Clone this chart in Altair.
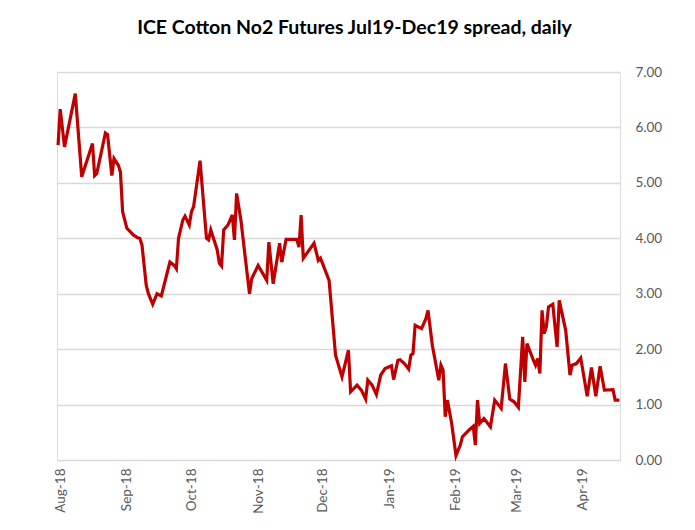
import altair as alt
import pandas as pd

# ---- data ----
DATES = [
    "2018-07-31", "2018-08-01", "2018-08-03", "2018-08-08", "2018-08-11", "2018-08-16",
    "2018-08-17", "2018-08-18", "2018-08-22", "2018-08-23", "2018-08-25", "2018-08-26",
    "2018-08-28", "2018-08-29", "2018-08-30", "2018-09-01", "2018-09-04", "2018-09-06",
    "2018-09-07", "2018-09-08", "2018-09-10", "2018-09-11", "2018-09-13", "2018-09-15",
    "2018-09-17", "2018-09-21", "2018-09-23", "2018-09-24", "2018-09-25", "2018-09-27",
    "2018-09-28", "2018-09-30", "2018-10-01", "2018-10-02", "2018-10-05", "2018-10-08",
    "2018-10-09", "2018-10-10", "2018-10-12", "2018-10-13", "2018-10-14", "2018-10-15",
    "2018-10-16", "2018-10-18", "2018-10-20", "2018-10-21", "2018-10-22", "2018-10-24",
    "2018-10-26", "2018-10-28", "2018-10-29", "2018-11-01", "2018-11-05", "2018-11-06",
    "2018-11-08", "2018-11-11", "2018-11-12", "2018-11-14", "2018-11-17", "2018-11-19",
    "2018-11-20", "2018-11-21", "2018-11-22", "2018-11-27", "2018-11-29", "2018-11-30",
    "2018-12-04", "2018-12-07", "2018-12-10", "2018-12-13", "2018-12-14", "2018-12-17",
    "2018-12-19", "2018-12-21", "2018-12-22", "2018-12-24", "2018-12-26", "2018-12-28",
    "2018-12-30", "2019-01-02", "2019-01-03", "2019-01-05", "2019-01-06", "2019-01-08",
    "2019-01-10", "2019-01-11", "2019-01-12", "2019-01-13", "2019-01-16", "2019-01-18",
    "2019-01-19", "2019-01-21", "2019-01-24", "2019-01-25", "2019-01-26", "2019-01-27",
    "2019-01-28", "2019-01-30", "2019-02-01", "2019-02-03", "2019-02-04", "2019-02-07",
    "2019-02-09", "2019-02-10", "2019-02-11", "2019-02-12", "2019-02-14", "2019-02-17",
    "2019-02-19", "2019-02-22", "2019-02-24", "2019-02-26", "2019-02-28", "2019-03-02",
    "2019-03-04", "2019-03-05", "2019-03-06", "2019-03-09", "2019-03-10", "2019-03-11",
    "2019-03-12", "2019-03-13", "2019-03-14", "2019-03-15", "2019-03-16", "2019-03-18",
    "2019-03-20", "2019-03-21", "2019-03-24", "2019-03-26", "2019-03-27", "2019-03-29",
    "2019-03-31", "2019-04-03", "2019-04-05", "2019-04-07", "2019-04-09", "2019-04-11",
    "2019-04-15", "2019-04-16", "2019-04-18",
]

SPREAD = [
    5.68, 6.33, 5.65, 6.61, 5.11, 5.71,
    5.13, 5.17, 5.90, 5.87, 5.13, 5.44,
    5.32, 5.19, 4.48, 4.18, 4.06, 4.01,
    4.00, 3.88, 3.15, 3.00, 2.81, 3.00,
    2.96, 3.57, 3.51, 3.45, 4.00, 4.33,
    4.40, 4.24, 4.48, 4.57, 5.40, 4.00,
    3.97, 4.15, 3.91, 3.79, 3.55, 3.50,
    4.15, 4.24, 4.42, 3.97, 4.81, 4.33,
    3.66, 3.00, 3.27, 3.51, 3.24, 3.93,
    3.18, 3.91, 3.57, 3.98, 3.98, 3.98,
    3.84, 4.42, 3.64, 3.91, 3.60, 3.64,
    3.24, 1.89, 1.50, 1.98, 1.23, 1.35,
    1.26, 1.10, 1.44, 1.35, 1.18, 1.53,
    1.65, 1.70, 1.45, 1.80, 1.81, 1.74,
    1.64, 1.89, 1.92, 2.43, 2.37, 2.55,
    2.70, 2.07, 1.44, 1.71, 1.62, 0.78,
    1.08, 0.66, 0.08, 0.27, 0.42, 0.54,
    0.61, 0.27, 1.08, 0.66, 0.75, 0.60,
    1.08, 0.93, 1.74, 1.10, 1.05, 0.95,
    2.22, 1.41, 2.10, 1.80, 1.71, 1.83,
    1.56, 2.70, 2.28, 2.40, 2.76, 2.81,
    2.04, 2.88, 2.34, 1.53, 1.71, 1.74,
    1.84, 1.15, 1.67, 1.15, 1.69, 1.26,
    1.27, 1.08, 1.08,
]

MONTH_TICKS = [(2018, 8), (2018, 9), (2018, 10), (2018, 11), (2018, 12),
               (2019, 1), (2019, 2), (2019, 3), (2019, 4)]
Y_TICKS = [0, 1, 2, 3, 4, 5, 6, 7]

TITLE = "ICE Cotton No2 Futures Jul19-Dec19 spread, daily"

df = pd.DataFrame({"date": DATES, "spread": SPREAD})

FONT = "Lato"
LABEL_COLOR = "#595959"
GRID_COLOR = "#d9d9d9"

x_enc = alt.X(
    "date:T",
    scale=alt.Scale(
        type="utc",
        domain=[
            alt.DateTime(year=2018, month=7, date=30, hours=12, utc=True),
            alt.DateTime(year=2019, month=4, date=18, hours=6, utc=True),
        ],
    ),
    axis=alt.Axis(
        title=None,
        values=[alt.DateTime(year=y, month=m, date=1, utc=True) for y, m in MONTH_TICKS],
        format="%b-%y",
        labelAngle=270,
        labelFontSize=13.5,
        labelColor=LABEL_COLOR,
        labelFont=FONT,
        labelPadding=8,
        ticks=False,
        domain=False,
        grid=False,
    ),
)

y_enc = alt.Y(
    "spread:Q",
    scale=alt.Scale(domain=[0, 7], nice=False, zero=True),
    axis=alt.Axis(
        title=None,
        orient="right",
        values=Y_TICKS,
        format=".2f",
        labelFontSize=13.5,
        labelColor=LABEL_COLOR,
        labelFont=FONT,
        labelPadding=15,
        ticks=False,
        domain=False,
        grid=True,
        gridColor=GRID_COLOR,
        gridWidth=1.4,
    ),
)

chart = (
    alt.Chart(df)
    .mark_line(color="#c00000", strokeWidth=3.2, strokeJoin="miter", strokeMiterLimit=4)
    .encode(x=x_enc, y=y_enc)
    .properties(
        width=563,
        height=388,
        title=alt.TitleParams(
            TITLE,
            font=FONT,
            fontSize=19.5,
            fontWeight="bold",
            color="#000000",
            anchor="middle",
            baseline="alphabetic",
            offset=12,
            dx=16,
        ),
        autosize=alt.AutoSizeParams(type="none"),
        padding={"left": 49, "top": 64, "right": 60, "bottom": 66},
    )
    .configure_view(stroke=None)
    .configure(background="white")
)

chart.save("out.html", embed_options={"renderer": "svg", "actions": False})
